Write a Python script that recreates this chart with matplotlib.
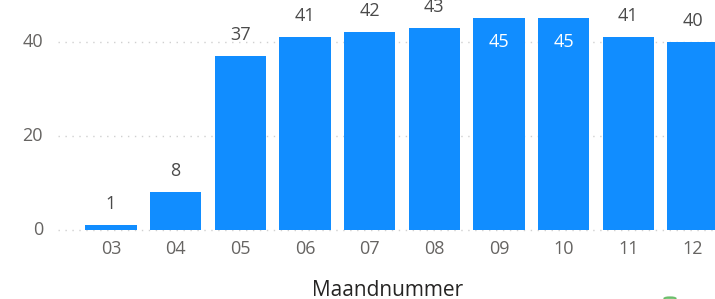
import matplotlib.pyplot as plt
from matplotlib.patches import Ellipse

months = ['03', '04', '05', '06', '07', '08', '09', '10', '11', '12']
counts = [1, 8, 37, 41, 42, 43, 45, 45, 41, 40]
inside = [False, False, False, False, False, False, True, True, False, False]
yticks = [0, 20, 40]

bar_color = '#118DFF'
tick_color = '#666462'
label_color = '#4A4A4A'

plt.rcParams['font.family'] = ['Open Sans', 'DejaVu Sans']

fig = plt.figure(figsize=(7.15, 2.99), dpi=100)
ax = fig.add_axes([0, 0, 1, 1])
ax.set_xlim(-1.716, 9.34)
ax.set_ylim(-14.7, 48.9)
ax.axis('off')

x = list(range(len(months)))

# dotted gridlines
for t in yticks:
    ax.hlines(t, -0.82, 9.34, colors='#D0D0D0', linestyles=(0, (1, 4)), linewidth=1, zorder=0)
    ax.annotate(str(t), (-0.82, t), xytext=(-15, 0), textcoords='offset pixels',
                ha='right', va='center', fontsize=13, color=tick_color)

ax.bar(x, counts, width=0.79, color=bar_color, zorder=2)

for xi, v, ins in zip(x, counts, inside):
    if ins:
        ax.annotate(str(v), (xi, v), xytext=(0, -24), textcoords='offset pixels',
                    ha='center', va='center', fontsize=13, color='white', zorder=3)
    else:
        ax.annotate(str(v), (xi, v), xytext=(0, 21), textcoords='offset pixels',
                    ha='center', va='center', fontsize=13, color=label_color, zorder=3)
    ax.annotate(months[xi], (xi, 0), xytext=(0, -19), textcoords='offset pixels',
                ha='center', va='center', fontsize=13, color=tick_color)

ax.text(4.28, -12.9, 'Maandnummer', ha='center', va='center',
        fontsize=15, color='#252423')

# small green mark at the bottom edge
fig.patches.append(Ellipse((670 / 715, 0.5 / 299), 12 / 715, 3 / 299, transform=fig.transFigure,
                           color='#5CB85C', alpha=0.8))

fig.savefig('out.png', dpi=100)
